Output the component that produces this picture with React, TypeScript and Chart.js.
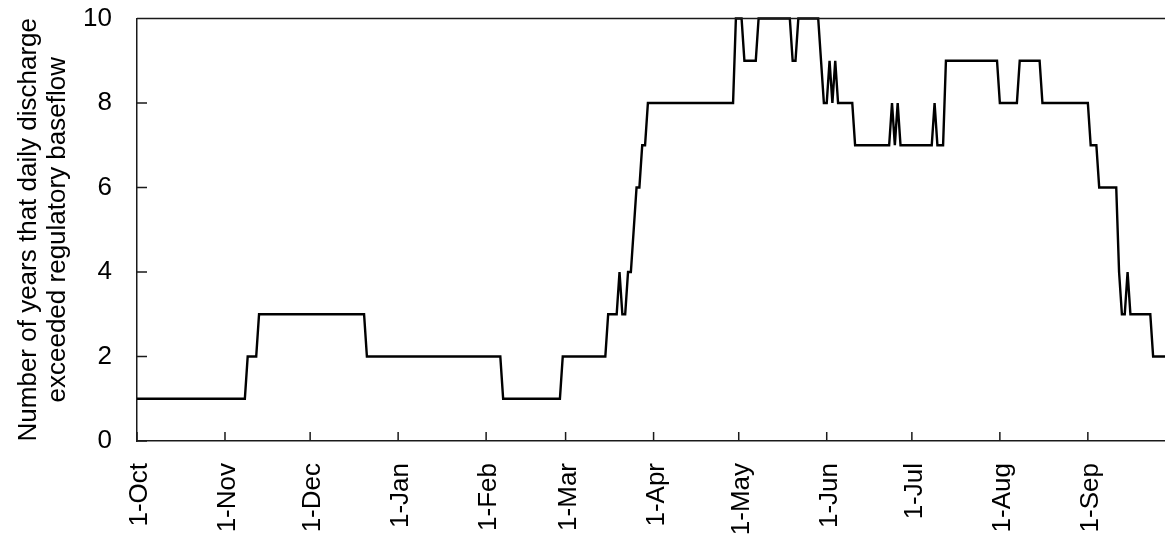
import React, { useEffect, useRef } from 'react';
import { Chart, registerables } from 'chart.js';

Chart.register(...registerables);

// Month tick positions (day index from 1-Oct) and their labels
const monthLabels = ['1-Oct', '1-Nov', '1-Dec', '1-Jan', '1-Feb', '1-Mar', '1-Apr', '1-May', '1-Jun', '1-Jul', '1-Aug', '1-Sep'];
const monthStartDays = [0, 31, 61, 92, 123, 151, 182, 212, 243, 273, 304, 335];

// Y axis tick values
const yTickValues = [0, 2, 4, 6, 8, 10];

// Daily series, run-length encoded: value held for a number of consecutive days
const runValues = [1, 2, 3, 2, 1, 2, 3, 4, 3, 4, 5, 6, 7, 8, 10, 9, 10, 9, 10, 9, 8, 9, 8, 9, 8, 7, 8, 7, 8, 7, 8, 7, 9, 8, 9, 8, 7, 6, 4, 3, 4, 3, 2];
const runLengths = [39, 4, 38, 48, 21, 16, 4, 1, 2, 2, 1, 2, 2, 31, 3, 5, 12, 2, 8, 1, 2, 1, 1, 1, 6, 13, 1, 1, 1, 12, 1, 3, 19, 7, 8, 17, 3, 7, 1, 2, 1, 8, 7];

const yTitle = ['Number of years that daily discharge', 'exceeded regulatory baseflow'];

export default function App() {
  const ref = useRef<HTMLCanvasElement>(null);

  useEffect(() => {
    if (!ref.current) return;
    const points: { x: number; y: number }[] = [];
    let day = 0;
    runValues.forEach((v, i) => {
      for (let k = 0; k < runLengths[i]; k++) {
        points.push({ x: day, y: v });
        day++;
      }
    });

    const family = '"Liberation Sans", Arial, Helvetica, sans-serif';
    const font = { family, size: 26 };
    const axisColor = '#1a1a1a';

    const innerTicks = {
      id: 'innerTicks',
      afterDraw(chart: any) {
        const { ctx, chartArea, scales } = chart;
        ctx.save();
        ctx.strokeStyle = axisColor;
        ctx.lineWidth = 1.5;
        ctx.beginPath();
        ctx.moveTo(chartArea.left, chartArea.top);
        ctx.lineTo(chartArea.right, chartArea.top);
        for (const t of scales.y.ticks) {
          const py = scales.y.getPixelForValue(t.value);
          ctx.moveTo(chartArea.left, py);
          ctx.lineTo(chartArea.left + 10, py);
        }
        for (const t of scales.x.ticks) {
          const px = scales.x.getPixelForValue(t.value);
          ctx.moveTo(px, chartArea.bottom);
          ctx.lineTo(px, chartArea.bottom - 9);
        }
        ctx.stroke();
        ctx.restore();
      },
    };

    const chart = new Chart(ref.current, {
      type: 'line',
      data: {
        datasets: [
          {
            data: points,
            borderColor: '#000',
            borderWidth: 2.4,
            pointRadius: 0,
            tension: 0,
            fill: false,
            clip: false as any,
          },
        ],
      },
      options: {
        animation: false,
        responsive: false,
        devicePixelRatio: 1,
        layout: { padding: { top: 18.5, right: 0, left: 0, bottom: 0 } },
        plugins: { legend: { display: false }, tooltip: { enabled: false } },
        scales: {
          x: {
            type: 'linear',
            min: 0,
            max: 365,
            afterBuildTicks: (s: any) => {
              s.ticks = monthStartDays.map((v) => ({ value: v }));
            },
            afterFit: (s: any) => {
              s.height = 103;
              s.paddingLeft = 0;
              s.paddingRight = 0;
            },
            ticks: {
              autoSkip: false,
              minRotation: 90,
              maxRotation: 90,
              padding: 22,
              labelOffset: 3,
              color: '#000',
              font,
              callback: (v: any) => {
                const i = monthStartDays.indexOf(Number(v));
                return i >= 0 ? monthLabels[i] : '';
              },
            },
            grid: { display: false, drawTicks: false },
            border: { display: true, color: axisColor, width: 1.5 },
          },
          y: {
            min: 0,
            max: 10,
            afterBuildTicks: (s: any) => {
              s.ticks = yTickValues.map((v) => ({ value: v }));
            },
            afterFit: (s: any) => {
              s.width = 137;
              s.paddingTop = 0;
              s.paddingBottom = 0;
            },
            ticks: { padding: 25, color: '#000', font },
            grid: { display: false, drawTicks: false },
            border: { display: true, color: axisColor, width: 1.5 },
            title: {
              display: true,
              text: yTitle,
              color: '#000',
              font: { family, size: 26, lineHeight: 1.12 },
              padding: { top: 14, bottom: 0 },
            },
          },
        },
      },
      plugins: [innerTicks],
    });

    return () => chart.destroy();
  }, []);

  return (
    <div style={{ position: 'fixed', left: 0, top: 0, width: 1165, height: 544, overflow: 'hidden', background: '#fff' }}>
      <canvas ref={ref} width={1173} height={544} style={{ display: 'block' }} />
    </div>
  );
}
